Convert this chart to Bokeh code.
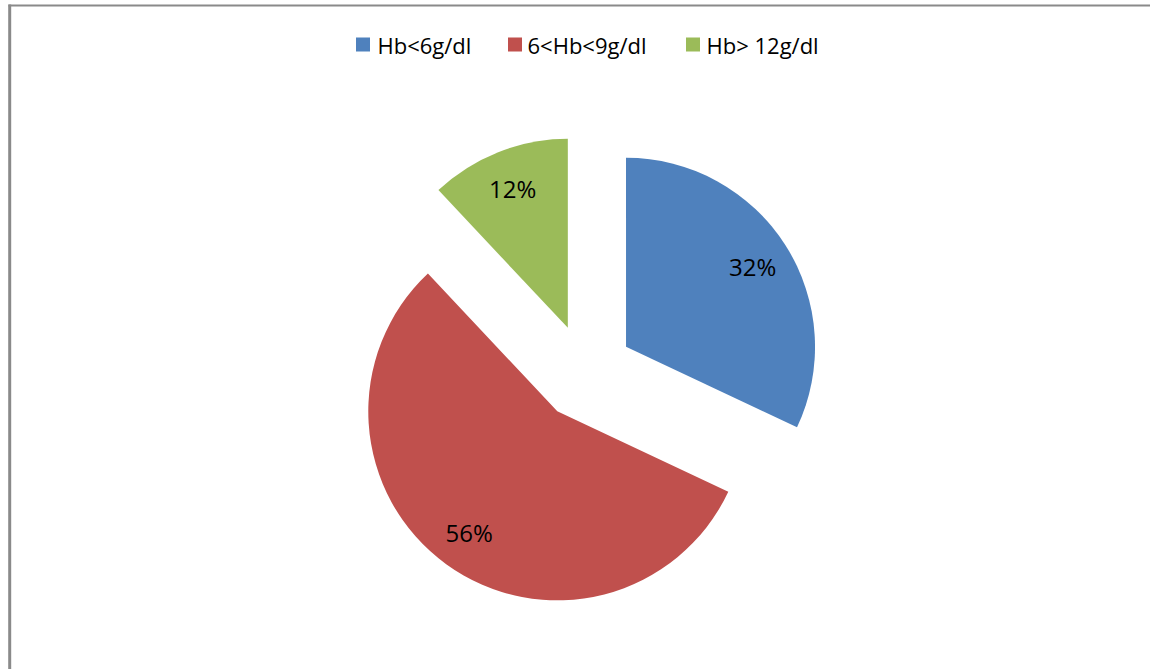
import numpy as np
from bokeh.plotting import figure
from bokeh.models import Range1d, ColumnDataSource
from bokeh.core.properties import value
from bokeh.embed import file_html
from bokeh.resources import INLINE

# ---- data ----
categories = ["Hb<6g/dl", "6<Hb<9g/dl", "Hb> 12g/dl"]
percent_values = [32, 56, 12]
slice_colors = ["#4F81BD", "#C0504D", "#9BBB59"]

W, H = 1150, 669
p = figure(width=W, height=H, output_backend="svg", toolbar_location=None,
           x_range=Range1d(0, W), y_range=Range1d(0, H),
           x_axis_location=None, y_axis_location=None, min_border=0,
           background_fill_color="white", border_fill_color="white")
p.outline_line_color = None
p.grid.visible = False

# chart frame (left and top edges visible)
p.segment(x0=[9.2], y0=[H - 4], x1=[9.2], y1=[-20], line_color="#8a8a8a", line_width=3)
p.segment(x0=[8], y0=[H - 5], x1=[W + 20], y1=[H - 5], line_color="#8a8a8a", line_width=2)

# pie geometry
cx, cy = 585.0, H - 372.0
R = 189.0
explode = 48.0
label_dist = 150.0

vals = np.array(percent_values, dtype=float)
frac = vals / vals.sum()
cum = np.concatenate([[0.0], np.cumsum(frac)[:-1]])
start = np.pi / 2 - cum * 2 * np.pi
end = start - frac * 2 * np.pi
mid = (start + end) / 2
xs = cx + explode * np.cos(mid)
ys = cy + explode * np.sin(mid)
lx = xs + label_dist * np.cos(mid)
ly = ys + label_dist * np.sin(mid)

src = ColumnDataSource(dict(x=xs, y=ys, start=start, end=end, color=slice_colors,
                            lx=lx, ly=ly, txt=[f"{v}%" for v in percent_values]))
p.wedge(x="x", y="y", radius=R, start_angle="start", end_angle="end",
        direction="clock", fill_color="color", line_color=None, source=src)
p.text(x="lx", y="ly", text="txt", source=src, text_align="center",
       text_baseline="middle", text_font=value("Open Sans"),
       text_font_size="24px", text_color="#000000")

# legend (top, centered)
sq_x = [362.5, 514.5, 692.5]
tx = [377, 527, 706]
ly_leg = H - 44
p.rect(x=sq_x, y=[ly_leg] * 3, width=14, height=14, fill_color=slice_colors, line_color=None)
p.text(x=tx, y=[ly_leg] * 3, text=categories, text_align="left", text_baseline="middle",
       text_font=value("Open Sans"), text_font_size="22px", text_color="#000000")

open("out.html", "w").write(file_html(p, INLINE))
